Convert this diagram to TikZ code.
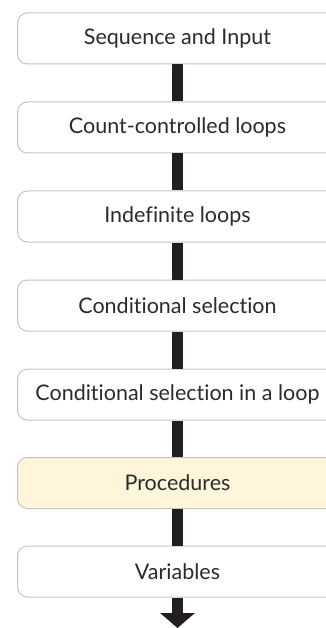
\documentclass[tikz,border=0pt]{standalone}
\usepackage{fontspec}
\setmainfont{Lato}[Ligatures={NoCommon}]
\usetikzlibrary{arrows.meta}
\definecolor{boxline}{HTML}{C4C4C4}
\definecolor{hl}{HTML}{FFF5DA}
\definecolor{bar}{HTML}{231F20}
\definecolor{txt}{HTML}{2B2B2B}
\begin{document}
\begin{tikzpicture}[x=1pt,y=-1pt,
  stage/.style={draw=boxline,line width=1pt,fill=white,rounded corners=10pt,
    minimum width=320pt,minimum height=51pt,inner sep=0pt,
    font=\fontsize{21.5}{24}\selectfont,text=txt},
  hlstage/.style={stage,fill=hl},
  link/.style={draw=bar,line width=11pt},
  lastlink/.style={draw=bar,line width=11pt,-{Triangle[width=34pt,length=15pt]}}]
\clip (0,0) rectangle (326,628);
\node[stage] (n1) at (177.5,38.5) {Sequence and Input};
\node[stage] (n2) at (177.5,127.5) {Count-controlled loops};
\node[stage] (n3) at (177.5,216.5) {Indefinite loops};
\node[stage] (n4) at (177.5,305.5) {Conditional selection};
\node[stage] (n5) at (177.5,394.5) {Conditional selection in a loop};
\node[hlstage] (n6) at (177.5,483) {Procedures};
\node[stage] (n7) at (177.5,571.5) {Variables};
\coordinate (end) at (177.5,628);
\draw[link] (n1.south) -- (n2.north);
\draw[link] (n2.south) -- (n3.north);
\draw[link] (n3.south) -- (n4.north);
\draw[link] (n4.south) -- (n5.north);
\draw[link] (n5.south) -- (n6.north);
\draw[link] (n6.south) -- (n7.north);
\draw[lastlink] (n7.south) -- (end);
\end{tikzpicture}
\end{document}
